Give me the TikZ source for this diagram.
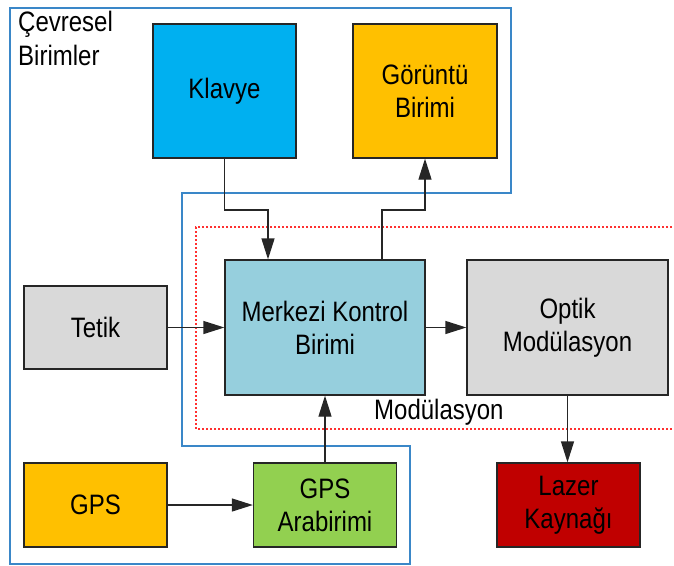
\documentclass[tikz,border=0pt]{standalone}
\usepackage{fontspec}
\usepackage{graphicx}
\setmainfont{Liberation Sans}
\usetikzlibrary{arrows.meta}
\definecolor{kbblue}{HTML}{00B0F0}
\definecolor{amber}{HTML}{FFC000}
\definecolor{ctrlblue}{HTML}{96CFDD}
\definecolor{lightgray}{HTML}{D9D9D9}
\definecolor{limegreen}{HTML}{92D050}
\definecolor{darkred}{HTML}{C00000}
\definecolor{groupblue}{HTML}{3A87C8}
\definecolor{dotred}{HTML}{FF3030}
% slightly tall lettering
\newcommand{\tall}[1]{\scalebox{1}[1.17]{#1}}
\tikzset{
  unit/.style={draw=black!85, line width=1.3pt, inner sep=0pt, align=center,
    font={\fontsize{24}{33}\selectfont}},
  link/.style={draw=black!85, line width=1.3pt, -{Triangle[length=21pt,width=13pt]}},
  group/.style={draw=groupblue, line width=2pt},
  modzone/.style={draw=dotred, line width=1.5pt, dash pattern=on 2pt off 2pt},
  caption/.style={inner sep=0pt, font={\fontsize{24}{33}\selectfont}}
}
\begin{document}
\begin{tikzpicture}[x=1pt, y=-1pt]
\useasboundingbox (0,0) rectangle (674,565);

% group outline of the peripheral units
\draw[group] (10,8) -- (511,8) -- (511,193) -- (182,193) -- (182,446)
  -- (410,446) -- (410,564) -- (10,564) -- cycle;

% modulation zone, open towards the right edge
\draw[modzone] (680,227) -- (196,227) -- (196,429) -- (680,429);

% units
\node[unit, fill=kbblue, minimum width=143pt, minimum height=134pt] (klavye) at (224.5,91) {\tall{Klavye}};
\node[unit, fill=amber, minimum width=144pt, minimum height=134pt] (ekran) at (425,91) {\tall{Görüntü}\\\tall{Birimi}};
\node[unit, fill=ctrlblue, minimum width=200pt, minimum height=135pt] (mkb) at (325,327.5) {\tall{Merkezi Kontrol}\\\tall{Birimi}};
\node[unit, fill=lightgray, minimum width=201pt, minimum height=135pt] (optik) at (567.5,327.5) {\tall{Optik}\\\tall{Modülasyon}};
\node[unit, fill=lightgray, minimum width=143pt, minimum height=83pt] (tetik) at (95.5,327.5) {\tall{Tetik}};
\node[unit, fill=amber, minimum width=143pt, minimum height=84pt] (gps) at (95.5,505) {\tall{GPS}};
\node[unit, fill=limegreen, minimum width=143pt, minimum height=84pt] (gpsa) at (325,505) {\tall{GPS}\\\tall{Arabirimi}};
\node[unit, fill=darkred, minimum width=143pt, minimum height=84pt] (lazer) at (568.5,505) {\tall{Lazer}\\\tall{Kaynağı}};

% labels
\node[caption, anchor=base west] (cev1) at (18,31.5) {\tall{Çevresel}};
\node[caption, anchor=base west] (cev2) at (18,65) {\tall{Birimler}};
\node[caption, anchor=base west] (modlbl) at (374,419.5) {\tall{Modülasyon}};

% bend points
\coordinate (k1) at (klavye.south |- 0,210);
\coordinate (k2) at (268,210);
\coordinate (e1) at (382,210);
\coordinate (e2) at (ekran.south |- 0,210);

% connectors
\draw[link] (klavye.south) -- (k1) -- (k2) -- (k2 |- mkb.north);
\draw[link] (e1 |- mkb.north) -- (e1) -- (e2) -- (ekran.south);
\draw[link] (tetik.east) -- (mkb.west);
\draw[link] (mkb.east) -- (optik.west);
\draw[link] (optik.south) -- (lazer.north -| optik.south);
\draw[link] (gps.east) -- (gpsa.west);
\draw[link] (gpsa.north) -- (mkb.south);
\end{tikzpicture}
\end{document}
